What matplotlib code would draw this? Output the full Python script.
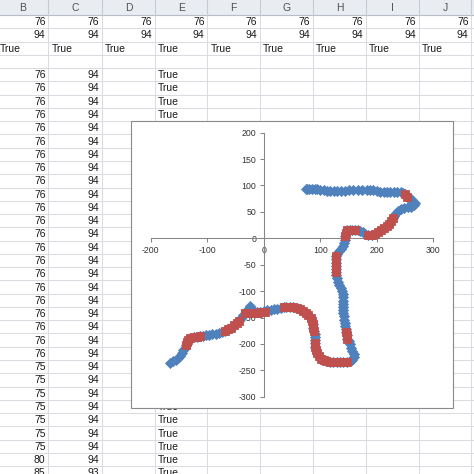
import matplotlib
matplotlib.use("Agg")
import matplotlib.pyplot as plt
from matplotlib.patches import Rectangle

plt.rcParams["font.family"] = ["Liberation Sans", "DejaVu Sans"]
plt.rcParams["axes.unicode_minus"] = False

# ---- sheet contents ----
col_letters = ["B", "C", "D", "E", "F", "G", "H", "I", "J"]
row1 = [76, 76, 76, 76, 76, 76, 76, 76, 76]
row2 = [94, 94, 94, 94, 94, 94, 94, 94, 94]
row3 = ["True", "True", "True", "True", "True", "True", "True", "True", "True"]
col_b = [76, 76, 76, 76, 76, 76, 76, 76, 76, 76, 76, 76, 76, 76, 76, 76, 76, 76,
         76, 76, 76, 76, 75, 75, 75, 75, 75, 75, 75, 80, 85]
col_c = [94, 94, 94, 94, 94, 94, 94, 94, 94, 94, 94, 94, 94, 94, 94, 94, 94, 94,
         94, 94, 94, 94, 94, 94, 94, 94, 94, 94, 94, 94, 93]
col_e = ["True"] * 31

# ---- chart series (x, y) ----
blue_x = [76, 75, 80, 85, 90, 95, 100, 106, 112, 118, 124, 130, 136, 143, 150, 158,
          166, 174, 182, 188, 194, 200, 206, 212, 218, 224, 230, 236, 242, 247,
          250, 254, 258, 263, 267, 266, 261, 255, 249, 243, 238, 234, 231,
          228, 225, 222, 218, 213, 208, 203, 197, 191, 185, 180, 175, 170, 166,
          162, 157, 152, 147, 145, 144, 143, 142, 140, 137, 134, 130,
          128, 127, 127, 127, 127, 127, 128, 129, 131, 134, 137, 139, 141, 141,
          141, 141, 141, 141, 141, 142, 142, 143, 144, 145, 146, 147, 148,
          150, 152, 155, 157, 159, 159, 157, 152,
          147, 141, 135, 129, 123, 117, 111, 106, 101, 97, 94, 92, 91, 91,
          91, 91, 90, 89, 88, 87, 85, 83, 79, 75, 70, 64, 58, 52, 46, 40, 35,
          30, 24, 18, 12, 6, 0, -6, -12, -17, -21, -24, -28, -32, -36, -40,
          -44, -48, -53, -58, -63, -68, -73, -79, -85, -91, -97, -103, -108,
          -112, -118, -124, -130, -134, -136, -137,
          -139, -142, -145, -148, -152, -156, -160, -165]
blue_y = [94, 94, 94, 93, 93, 93, 92, 91, 90, 90, 90, 90, 90, 90, 91, 91,
          91, 91, 92, 92, 91, 89, 88, 87, 87, 87, 87, 87, 87, 86,
          83, 79, 76, 72, 67, 63, 60, 59, 57, 55, 52, 47, 42,
          38, 33, 28, 24, 20, 15, 11, 8, 7, 7, 9, 12, 14, 15,
          16, 16, 16, 15, 10, 4, -3, -9, -15, -20, -25, -29,
          -34, -40, -46, -52, -58, -64, -70, -76, -82, -88, -94, -100, -106, -112,
          -118, -124, -130, -136, -142, -148, -154, -160, -166, -172, -178, -184, -190,
          -195, -201, -207, -213, -219, -225, -230, -233,
          -234, -235, -235, -235, -235, -234, -233, -231, -228, -223, -217, -211, -205, -199,
          -193, -187, -181, -175, -169, -163, -157, -151, -146, -141, -137, -134, -132, -131, -130, -130, -131,
          -132, -133, -134, -135, -136, -138, -139, -140, -139, -134, -129, -134, -139, -145, -150,
          -156, -161, -165, -169, -172, -176, -178, -179, -181, -182, -183, -184, -185,
          -185, -186, -187, -188, -192, -197, -202,
          -207, -212, -217, -222, -226, -230, -233, -236]

red_x = [250, 254,
         228, 225, 222, 218, 213, 208, 203, 197, 191, 185,
         162, 157, 152, 147, 145, 144,
         128, 127, 127, 127, 127, 127,
         146, 147, 148,
         147, 141, 135, 129, 123, 117, 111, 106, 101, 97, 94, 92, 91, 91,
         89, 88, 87, 85, 83, 79, 75, 70, 64, 58, 52, 46, 40, 35,
         2, -4, -10, -16, -22, -28, -33,
         -44, -48, -53, -58, -63, -68,
         -112, -118, -124, -130, -134, -136, -137]
red_y = [83, 79,
         38, 33, 28, 24, 20, 15, 11, 8, 7, 7,
         16, 16, 16, 15, 10, 4,
         -34, -40, -46, -52, -58, -64,
         -178, -184, -190,
         -234, -235, -235, -235, -235, -234, -233, -231, -228, -223, -217, -211, -205, -199,
         -175, -169, -163, -157, -151, -146, -141, -137, -134, -132, -131, -130, -130, -131,
         -139, -140, -141, -142, -142, -142, -142,
         -156, -161, -165, -169, -172, -176,
         -185, -186, -187, -188, -192, -197, -202]

# ---- layout (pixels) ----
W = 474
col_edges = [-3, 48.5, 102, 155, 207.5, 260, 313, 366, 419, 471.5, 530]
head_h = 15
row_h = 13.27
grid_c = "#d9dce1"

fig = plt.figure(figsize=(W / 100, W / 100), dpi=100)
bg = fig.add_axes([0, 0, 1, 1])
bg.set_xlim(0, W)
bg.set_ylim(W, 0)
bg.axis("off")

# header
bg.add_patch(Rectangle((0, 0), W, head_h, facecolor="#e9ecf0", edgecolor="none", zorder=1))
bg.plot([0, W], [head_h, head_h], color="#b7bdc6", lw=0.8, zorder=2)
for i, letter in enumerate(col_letters):
    bg.text((col_edges[i] + col_edges[i + 1]) / 2, head_h / 2 + 0.5, letter,
            ha="center", va="center", fontsize=7.5, color="#505050", zorder=3)
for xe in col_edges[1:-1]:
    bg.plot([xe, xe], [0, head_h], color="#c6cbd2", lw=0.8, zorder=2)

# grid
n_rows = 35
for k in range(n_rows + 1):
    y = head_h + k * row_h
    bg.plot([0, W], [y, y], color=grid_c, lw=0.75, zorder=1)
for xe in col_edges[1:-1]:
    bg.plot([xe, xe], [head_h, W], color=grid_c, lw=0.75, zorder=1)


def row_y(k):
    return head_h + (k - 0.5) * row_h


def put_num(col, k, val):
    bg.text(col_edges[col + 1] - 3, row_y(k) + 0.5, str(val), ha="right", va="center",
            fontsize=7.5, color="#1a1a1a", zorder=3)


def put_txt(col, k, val):
    bg.text(col_edges[col] + 3, row_y(k) + 0.5, val, ha="left", va="center",
            fontsize=7.5, color="#1a1a1a", zorder=3)


for i in range(9):
    put_num(i, 1, row1[i])
    put_num(i, 2, row2[i])
    put_txt(i, 3, row3[i])
for j in range(len(col_b)):
    put_num(0, 5 + j, col_b[j])
    put_num(1, 5 + j, col_c[j])
    put_txt(3, 5 + j, col_e[j])

# chart area
bg.add_patch(Rectangle((131, 121), 322, 287, facecolor="white", edgecolor="#8a8a8a",
                       lw=0.8, zorder=10))

# plot area
x0, x1 = 150.7, 433.3
yt, yb = 132.7, 396.7
ax = fig.add_axes([x0 / W, (W - yb) / W, (x1 - x0) / W, (yb - yt) / W])
ax.patch.set_alpha(0)
ax.set_xlim(-200, 300)
ax.set_ylim(-300, 200)
ax.set_xticks([-200, -100, 0, 100, 200, 300])
ax.set_yticks([-300, -250, -200, -150, -100, -50, 0, 50, 100, 150, 200])
for s in ["top", "right"]:
    ax.spines[s].set_visible(False)
ax.spines["left"].set_position(("data", 0))
ax.spines["bottom"].set_position(("data", 0))
for s in ["left", "bottom"]:
    ax.spines[s].set_color("#868686")
    ax.spines[s].set_linewidth(0.75)
ax.tick_params(direction="out", length=3, width=0.75, color="#868686",
               labelsize=6.3, labelcolor="#333333", pad=2.5)

ax.plot(blue_x, blue_y, linestyle="none", marker="D", markersize=4.6,
        color="#4f81bd", markeredgecolor="#4f81bd", markeredgewidth=0.6, zorder=3)
ax.plot(red_x, red_y, linestyle="none", marker="s", markersize=5.2,
        color="#c0504d", markeredgecolor="#c0504d", markeredgewidth=0.6, zorder=4)

fig.savefig("out.png", dpi=100)
